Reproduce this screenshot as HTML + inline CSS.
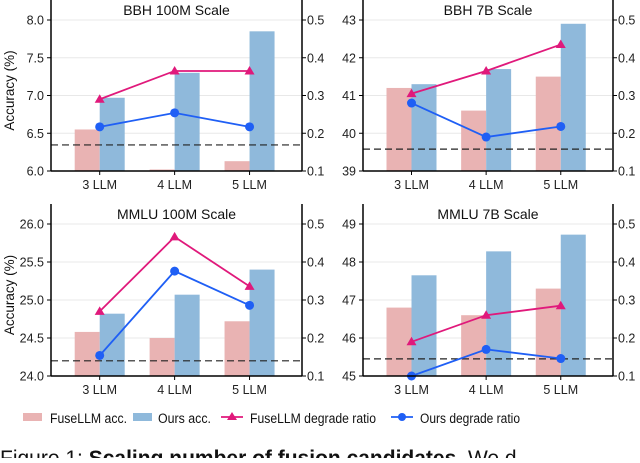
<!DOCTYPE html>
<html><head><meta charset="utf-8"><style>
body{margin:0;background:#fff;width:640px;height:458px;overflow:hidden}
svg text{font-family:"Liberation Sans",Arial,sans-serif}
</style></head><body>
<svg id="c" width="640" height="458" xmlns="http://www.w3.org/2000/svg"></svg>
<script>
const categories=["3 LLM","4 LLM","5 LLM"];
const titles=["BBH 100M Scale","BBH 7B Scale","MMLU 100M Scale","MMLU 7B Scale"];
const leftMin=[6.0,39,24.0,45];
const leftMax=[8.0,43,26.0,49];
const leftTicks=[["6.0","6.5","7.0","7.5","8.0"],["39","40","41","42","43"],["24.0","24.5","25.0","25.5","26.0"],["45","46","47","48","49"]];
const rightTicks=["0.1","0.2","0.3","0.4","0.5"];
const fuseAcc=[[6.55,6.02,6.13],[41.2,40.6,41.5],[24.58,24.5,24.72],[46.8,46.6,47.3]];
const oursAcc=[[6.97,7.30,7.85],[41.3,41.7,42.9],[24.82,25.07,25.40],[47.65,48.28,48.72]];
const fuseRatio=[[0.29,0.365,0.365],[0.305,0.365,0.435],[0.27,0.466,0.336],[0.19,0.26,0.285]];
const oursRatio=[[0.217,0.254,0.217],[0.28,0.19,0.218],[0.154,0.376,0.286],[0.1,0.17,0.146]];
const dashed=[0.169,0.158,0.14,0.145];

const NS="http://www.w3.org/2000/svg";
const svg=document.getElementById('c');
function mk(tag,attrs,parent){const e=document.createElementNS(NS,tag);for(const k in attrs)e.setAttribute(k,attrs[k]);(parent||svg).appendChild(e);return e;}
const panels=[{x0:51,x1:302,top:0,y0:20,y1:171},{x0:363,x1:613,top:0,y0:20,y1:171},{x0:51,x1:302,top:204,y0:224,y1:376},{x0:363,x1:613,top:204,y0:224,y1:376}];
panels.forEach((p,i)=>{
  const g=mk('g',{});
  
  
  const yL=v=>p.y1-(v-leftMin[i])/(leftMax[i]-leftMin[i])*(p.y1-p.y0);
  const yR=v=>p.y1-(v-0.1)/0.4*(p.y1-p.y0);
  const step=(p.x1-p.x0)/3.35;
  const xC=j=>p.x0+step*(0.65+j);
  leftTicks[i].forEach((t,k)=>{
    const y=p.y1-k*(p.y1-p.y0)/4;
    if(k>0){const gl=mk('line',{x1:p.x0,x2:p.x1,y1:y,y2:y,stroke:'#e8e8e8','stroke-width':1},g);}
    const tl=mk('text',{x:p.x0-7,y:y+4.5,'text-anchor':'end','font-size':12.5,fill:'#222'},g);tl.textContent=t;
    
    mk('line',{x1:p.x0-4,x2:p.x0,y1:y,y2:y,stroke:'#000'},g);
    const tr=mk('text',{x:p.x1+5,y:y+4.5,'font-size':12.5,fill:'#222'},g);tr.textContent=rightTicks[k];
    
    mk('line',{x1:p.x1,x2:p.x1+4,y1:y,y2:y,stroke:'#000'},g);
  });
  categories.forEach((c,j)=>{
    const x=xC(j);
    const b1=mk('rect',{x:x-25,y:yL(fuseAcc[i][j]),width:25,height:p.y1-yL(fuseAcc[i][j]),fill:'#e9b3b3'},g);
    
    const b2=mk('rect',{x:x,y:yL(oursAcc[i][j]),width:25,height:p.y1-yL(oursAcc[i][j]),fill:'#8fb9db'},g);
    
    const lt=mk('text',{x:x,y:p.y1+18,'text-anchor':'middle','font-size':12.5,fill:'#222'},g);lt.textContent=c;
    
    mk('line',{x1:x,x2:x,y1:p.y1,y2:p.y1+4,stroke:'#000'},g);
  });
  const dl=mk('line',{x1:p.x0,x2:p.x1,y1:yR(dashed[i]),y2:yR(dashed[i]),stroke:'#222','stroke-width':1.2,'stroke-dasharray':'7,4'},g);
  
  const fp=mk('polyline',{points:fuseRatio[i].map((v,j)=>xC(j)+','+yR(v)).join(' '),fill:'none',stroke:'#e0197b','stroke-width':1.8},g);
  
  fuseRatio[i].forEach((v,j)=>{const x=xC(j),y=yR(v);const m=mk('polygon',{points:`${x},${y-5} ${x-5},${y+3.5} ${x+5},${y+3.5}`,fill:'#e0197b'},g);});
  const op=mk('polyline',{points:oursRatio[i].map((v,j)=>xC(j)+','+yR(v)).join(' '),fill:'none',stroke:'#1f5ff5','stroke-width':1.8},g);
  
  oursRatio[i].forEach((v,j)=>{const m=mk('circle',{cx:xC(j),cy:yR(v),r:4.5,fill:'#1f5ff5'},g);});
  mk('line',{x1:p.x0,x2:p.x0,y1:p.top,y2:p.y1+0.5,stroke:'#000','stroke-width':1.5},g);
  mk('line',{x1:p.x1,x2:p.x1,y1:p.top,y2:p.y1+0.5,stroke:'#000','stroke-width':1.5},g);
  mk('line',{x1:p.x0,x2:p.x1,y1:p.y1,y2:p.y1,stroke:'#000','stroke-width':1.5},g);
  const tt=mk('text',{x:(p.x0+p.x1)/2,y:p.top+15,'text-anchor':'middle','font-size':14,fill:'#111'},g);tt.textContent=titles[i];
  
  if(i%2===0){const yt=(p.top+p.y1)/2+5;const a=mk('text',{x:14,y:yt,'text-anchor':'middle','font-size':13.5,fill:'#111',transform:`rotate(-90 14 ${yt})`},g);a.textContent='Accuracy (%)';}
});
const lg=mk('g',{});


mk('rect',{x:23,y:413,width:19,height:8,fill:'#e9b3b3'},lg);
let t=mk('text',{x:50,y:423,'font-size':13.5,fill:'#111',textLength:77,lengthAdjust:'spacingAndGlyphs'},lg);t.textContent='FuseLLM acc.';
mk('rect',{x:133,y:413,width:19,height:8,fill:'#8fb9db'},lg);
t=mk('text',{x:158,y:423,'font-size':13.5,fill:'#111',textLength:53,lengthAdjust:'spacingAndGlyphs'},lg);t.textContent='Ours acc.';
mk('line',{x1:221,x2:243,y1:417,y2:417,stroke:'#e0197b','stroke-width':1.8},lg);
mk('polygon',{points:'232,412 227,420 237,420',fill:'#e0197b'},lg);
t=mk('text',{x:250,y:423,'font-size':13.5,fill:'#111',textLength:126,lengthAdjust:'spacingAndGlyphs'},lg);t.textContent='FuseLLM degrade ratio';
mk('line',{x1:391,x2:413,y1:417,y2:417,stroke:'#1f5ff5','stroke-width':1.8},lg);
mk('circle',{cx:402,cy:417,r:4,fill:'#1f5ff5'},lg);
t=mk('text',{x:420,y:423,'font-size':13.5,fill:'#111',textLength:100,lengthAdjust:'spacingAndGlyphs'},lg);t.textContent='Ours degrade ratio';
const cap=mk('text',{x:0,y:465,'font-size':21,fill:'#111','font-family':'Liberation Serif, serif'});


cap.innerHTML='Figure 1: <tspan font-weight="bold">Scaling number of fusion candidates.</tspan> We d';
</script>
</body></html>
